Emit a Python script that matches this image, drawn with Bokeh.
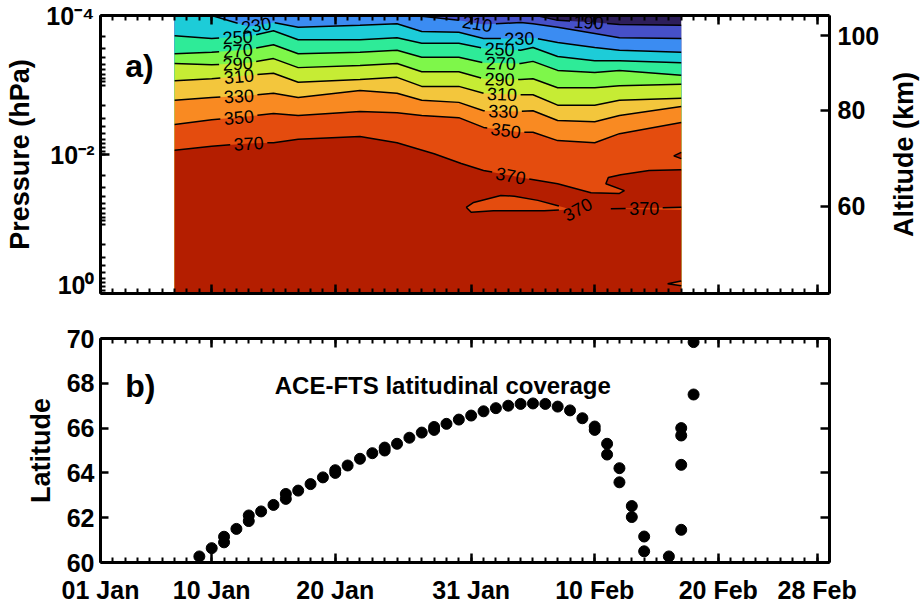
import math
import numpy as np
from bokeh.plotting import figure
from bokeh.models import Range1d, LinearAxis, FixedTicker, Label
from bokeh.layouts import column, row
from bokeh.core.properties import value
from bokeh.embed import file_html
from bokeh.resources import INLINE

FONT = "Liberation Sans"

# ---------------- data ----------------
# day of year (1 = 01 Jan)
DAYS = [7, 10, 13, 15, 17, 22, 25, 27, 30, 32, 35, 36, 38, 41, 43, 48]
# isotherm positions, log10(pressure / hPa)
ISO_190 = [-4.10, -4.10, -4.10, -4.10, -4.10, -4.10, -4.10, -4.10, -4.10, -4.10, -4.10, -4.01, -3.93, -3.90, -3.87, -3.86]
ISO_210 = [-4.10, -4.10, -4.10, -4.10, -4.10, -4.10, -4.10, -3.99, -3.93, -3.87, -3.90, -3.88, -3.83, -3.74, -3.68, -3.67]
ISO_230 = [-4.10, -4.00, -3.84, -3.90, -3.83, -3.86, -3.88, -3.77, -3.76, -3.67, -3.67, -3.68, -3.61, -3.54, -3.50, -3.47]
ISO_250 = [-3.71, -3.67, -3.70, -3.78, -3.65, -3.65, -3.68, -3.60, -3.60, -3.53, -3.50, -3.54, -3.41, -3.35, -3.35, -3.32]
ISO_270 = [-3.45, -3.47, -3.51, -3.58, -3.45, -3.47, -3.50, -3.40, -3.40, -3.32, -3.31, -3.34, -3.21, -3.18, -3.21, -3.14]
ISO_290 = [-3.31, -3.29, -3.32, -3.38, -3.25, -3.28, -3.31, -3.19, -3.19, -3.09, -3.08, -3.09, -2.96, -2.96, -2.99, -3.01]
ISO_310 = [-3.06, -3.09, -3.14, -3.17, -3.04, -3.08, -3.11, -2.98, -2.98, -2.88, -2.86, -2.86, -2.71, -2.71, -2.78, -2.81]
ISO_330 = [-2.78, -2.82, -2.85, -2.88, -2.82, -2.92, -2.88, -2.78, -2.75, -2.63, -2.62, -2.63, -2.49, -2.47, -2.56, -2.69]
ISO_350 = [-2.43, -2.50, -2.55, -2.59, -2.56, -2.62, -2.60, -2.56, -2.53, -2.39, -2.32, -2.32, -2.20, -2.17, -2.30, -2.46]
LEVELS = [190, 210, 230, 250, 270, 290, 310, 330, 350]
ISO = dict(zip(LEVELS, [ISO_190, ISO_210, ISO_230, ISO_250, ISO_270,
                        ISO_290, ISO_310, ISO_330, ISO_350]))

ISO_370_DAY = [7.0, 10.0, 13.0, 15.0, 17.0, 22.0, 25.0, 28.0, 30.2, 32.0, 35.0, 38.0, 40.7, 43.0,
               43.4, 41.9, 42.1, 43.1, 45.4, 48.0]
ISO_370_LOGP = [-2.06, -2.12, -2.16, -2.17, -2.22, -2.26, -2.17, -2.01, -1.87, -1.77, -1.67, -1.58, -1.45, -1.44,
                -1.48, -1.58, -1.67, -1.71, -1.77, -1.78]
# closed 370 contours: island (<370), sliver (<370), edge pockets
ISLAND_DAY = [30.6, 31.2, 33.4, 34.5, 36.4, 38.3, 39.1, 36.9, 32.8, 31.0]
ISLAND_LOGP = [-1.24, -1.31, -1.41, -1.40, -1.34, -1.25, -1.21, -1.19, -1.19, -1.17]
SLIVER_DAY = [42.3, 48.0, 48.0]
SLIVER_LOGP = [-1.22, -1.24, -1.20]
POCKET_HI_DAY = [48.0, 47.4, 48.0]      # >370 pocket at the right edge
POCKET_HI_LOGP = [-2.03, -1.98, -1.94]
POCKET_LO_DAY = [48.0, 46.9, 48.0]      # <370 pocket at the right edge
POCKET_LO_LOGP = [-0.18, -0.14, -0.11]

# contour labels: level and day of year where they sit
CLAB_LEVEL = [230, 250, 270, 290, 310, 330, 350, 370,
              190, 210, 230, 250, 270, 290, 310, 330, 350, 370]
CLAB_DAY = [13.6, 12.1, 12.1, 12.1, 12.2, 12.2, 12.2, 13.0,
            40.5, 31.5, 34.9, 33.3, 33.4, 33.3, 33.5, 33.6, 33.8, 34.2]
SLIVER_LABEL_DAY = 45.0

# ACE-FTS latitudinal coverage
LAT_DAY = [9, 10, 11, 11, 12, 13, 13, 14, 15, 16, 16, 17, 18, 19, 20, 20, 21, 22, 23, 24, 24, 25,
           26, 27, 28, 28, 29, 30, 31, 32, 33, 34, 35, 36, 37, 38, 39, 40, 41, 41, 42, 42, 43, 43,
           44, 44, 45, 45, 47, 48, 48, 48, 48, 49, 49]
LAT_VAL = [60.27, 60.64, 60.90, 61.15, 61.50, 61.85, 62.10, 62.28, 62.57, 62.84, 63.06, 63.21, 63.50,
           63.80, 64.00, 64.12, 64.33, 64.63, 64.88, 65.00, 65.13, 65.30, 65.57, 65.80, 65.92, 66.05,
           66.19, 66.38, 66.56, 66.75, 66.89, 67.00, 67.08, 67.10, 67.08, 66.96, 66.79, 66.44, 66.07,
           65.92, 65.30, 64.82, 64.21, 63.58, 62.52, 62.03, 61.16, 60.50, 60.27, 66.00, 65.67, 64.36,
           61.46, 69.84, 67.50]

TICK_DAYS = [1, 10, 20, 31, 41, 51, 59]
TICK_LABELS = ["01 Jan", "10 Jan", "20 Jan", "31 Jan", "10 Feb", "20 Feb", "28 Feb"]

# ---------------- styles ----------------
BAND_COLORS = ["#2D1E5A", "#4650C8", "#3B8CF2", "#1DCCD8", "#2EEB98", "#7EF74A",
               "#C6EC34", "#F3C63C", "#F98A22", "#E44C0E", "#B41E00"]
FW, FH1, FH2 = 729, 278, 224
X0, X1 = 1, 60
PX_DAY = FW / (X1 - X0)
PX_DEC = FH1 / 4.0
GAP = 1.5  # half-width (days) of contour label gap
ALT_RANGE = (46.2, 106.3)


def style_axis(ax, major_in=9, minor_in=5, labels=True):
    ax.axis_line_width = 3
    ax.major_tick_line_width = 2.5
    ax.minor_tick_line_width = 2
    ax.major_tick_in = major_in
    ax.major_tick_out = 0
    ax.minor_tick_in = minor_in
    ax.minor_tick_out = 0
    ax.major_label_text_font = FONT
    ax.major_label_text_font_style = "bold"
    ax.axis_label_text_font = FONT
    ax.axis_label_text_font_style = "bold"
    ax.axis_label_text_font_size = "27px"
    ax.axis_label_text_color = "black"
    if labels:
        ax.major_label_text_font_size = "25px"
        ax.major_label_text_color = "black"
    else:
        ax.major_label_text_font_size = "1px"
        ax.major_label_text_color = None
        ax.major_label_standoff = 0


def cut_polyline(xs, ys, gaps):
    pieces, cx, cy = [], [], []
    def in_gap(x):
        return any(a < x < b for a, b in gaps)
    for i in range(len(xs) - 1):
        x0, y0, x1, y1 = xs[i], ys[i], xs[i + 1], ys[i + 1]
        ts = {0.0, 1.0}
        if x1 != x0:
            for a, b in gaps:
                for e in (a, b):
                    t = (e - x0) / (x1 - x0)
                    if 0 < t < 1:
                        ts.add(t)
        ts = sorted(ts)
        for ta, tb in zip(ts[:-1], ts[1:]):
            xm = x0 + 0.5 * (ta + tb) * (x1 - x0)
            if in_gap(xm):
                if len(cx) > 1:
                    pieces.append((cx, cy))
                cx, cy = [], []
            else:
                if not cx:
                    cx, cy = [x0 + ta * (x1 - x0)], [y0 + ta * (y1 - y0)]
                cx.append(x0 + tb * (x1 - x0))
                cy.append(y0 + tb * (y1 - y0))
    if len(cx) > 1:
        pieces.append((cx, cy))
    return pieces


def slope_angle(xs, ys, d):
    s = (np.interp(d + 0.4, xs, ys) - np.interp(d - 0.4, xs, ys)) / 0.8
    return float(-np.arctan(s * PX_DEC / PX_DAY))


x_ticker = FixedTicker(ticks=TICK_DAYS, minor_ticks=list(range(X0, X1 + 1)))

# ---------------- panel a ----------------
p1 = figure(x_range=Range1d(X0, X1), y_range=Range1d(1.0, 1e-4), y_axis_type="log",
            frame_width=FW, frame_height=FH1, output_backend="svg", toolbar_location=None,
            min_border_left=100, min_border_top=15, min_border_bottom=5, min_border_right=56)
p1.xgrid.visible = False
p1.ygrid.visible = False
p1.outline_line_color = None

# filled bands
p1.quad(left=DAYS[0], right=DAYS[-1], bottom=1.0, top=1e-4, fill_color=BAND_COLORS[0], line_color=None)
for i, lev in enumerate(LEVELS):
    xs = DAYS + [DAYS[-1], DAYS[0]]
    ys = [10 ** v for v in ISO[lev]] + [1.0, 1.0]
    p1.patch(xs, ys, fill_color=BAND_COLORS[i + 1], line_color=None)
p1.patch(ISO_370_DAY + [ISO_370_DAY[-1], ISO_370_DAY[0]],
         [10 ** v for v in ISO_370_LOGP] + [1.0, 1.0], fill_color=BAND_COLORS[10], line_color=None)
p1.patch(ISLAND_DAY, [10 ** v for v in ISLAND_LOGP], fill_color=BAND_COLORS[9], line_color=None)
p1.patch(SLIVER_DAY, [10 ** v for v in SLIVER_LOGP], fill_color=BAND_COLORS[9], line_color=None)
p1.patch(POCKET_HI_DAY, [10 ** v for v in POCKET_HI_LOGP], fill_color=BAND_COLORS[10], line_color=None)
p1.patch(POCKET_LO_DAY, [10 ** v for v in POCKET_LO_LOGP], fill_color=BAND_COLORS[9], line_color=None)

# contour lines (broken at labels) and labels
lx, ly, tx, ty, tt, ta = [], [], [], [], [], []
n_mono = ISO_370_DAY.index(43.0) + 1
for lev in LEVELS + [370]:
    if lev == 370:
        xs, ys = ISO_370_DAY, ISO_370_LOGP
        mx, my = ISO_370_DAY[:n_mono], ISO_370_LOGP[:n_mono]
    else:
        xs, ys = DAYS, ISO[lev]
        mx, my = xs, ys
    days = [d for l, d in zip(CLAB_LEVEL, CLAB_DAY) if l == lev]
    for d in days:
        tx.append(d)
        ty.append(10 ** float(np.interp(d, mx, my)))
        tt.append(str(lev))
        ta.append(slope_angle(mx, my, d))
    for px, py in cut_polyline(xs, ys, [(d - GAP, d + GAP) for d in days]):
        lx.append(px)
        ly.append([10 ** v for v in py])

# island outline
tip = int(np.argmax(ISLAND_DAY))
ix = ISLAND_DAY + [ISLAND_DAY[0]]
iy = ISLAND_LOGP + [ISLAND_LOGP[0]]
for px, py in cut_polyline(ix, iy, [(ISLAND_DAY[tip] - 1.0, ISLAND_DAY[tip] + 3.0)]):
    lx.append(px)
    ly.append([10 ** v for v in py])
tx.append(ISLAND_DAY[tip] + 0.5)
ty.append(10 ** ISLAND_LOGP[tip])
tt.append("370")
ta.append(0.5)
# sliver outline
sx, sy = SLIVER_DAY[:2], SLIVER_LOGP[:2]
for px, py in cut_polyline(sx, sy, [(SLIVER_LABEL_DAY - GAP, SLIVER_LABEL_DAY + GAP)]):
    lx.append(px)
    ly.append([10 ** v for v in py])
tx.append(SLIVER_LABEL_DAY)
ty.append(10 ** float(np.interp(SLIVER_LABEL_DAY, sx, sy)))
tt.append("370")
ta.append(0.0)
# edge pockets
for pd, pl in ((POCKET_HI_DAY, POCKET_HI_LOGP), (POCKET_LO_DAY, POCKET_LO_LOGP)):
    lx.append(pd)
    ly.append([10 ** v for v in pl])

p1.multi_line(lx, ly, line_color="black", line_width=1.5)
p1.text(x=tx, y=ty, text=tt, angle=ta, text_align="center", text_baseline="middle",
        text_font=value(FONT), text_font_size="18px", text_color="black")

p1.add_layout(Label(x=3.0, y=10 ** -3.27, text="a)", text_font=FONT, text_font_style="bold",
                    text_font_size="32px", text_baseline="middle", text_align="left",
                    text_color="black"))

# axes of panel a
style_axis(p1.xaxis[0], labels=False)
p1.xaxis[0].ticker = x_ticker
top1 = LinearAxis(ticker=x_ticker)
style_axis(top1, labels=False)
p1.add_layout(top1, "above")

yax = p1.yaxis[0]
style_axis(yax, major_in=9, minor_in=5)
yax.ticker = FixedTicker(ticks=[1e-4, 1e-2, 1.0],
                         minor_ticks=[k * 10.0 ** e for e in range(-4, 0) for k in range(1, 10)])
yax.major_label_overrides = {1e-4: "10⁻⁴", 1e-2: "10⁻²", 1.0: "10⁰"}
yax.axis_label = "Pressure (hPa)"
yax.major_label_standoff = 6
yax.axis_label_standoff = 8

p1.extra_y_ranges = {"alt": Range1d(*ALT_RANGE)}
ralt = LinearAxis(y_range_name="alt", ticker=FixedTicker(ticks=[60, 80, 100], minor_ticks=[]))
style_axis(ralt, major_in=9, minor_in=0)
ralt.major_label_standoff = 8
p1.add_layout(ralt, "right")

# right-hand axis title (reads bottom-to-top), in a narrow strip beside panel a
pt = figure(width=36, frame_height=FH1, x_range=Range1d(0, 1), y_range=Range1d(0, 1),
            output_backend="svg", toolbar_location=None,
            min_border_left=0, min_border_right=0, min_border_top=15, min_border_bottom=5)
pt.axis.visible = False
pt.grid.visible = False
pt.outline_line_color = None
pt.text(x=[0.5], y=[0.5], text=["Altitude (km)"], angle=math.pi / 2, text_align="center",
        text_baseline="middle", text_font=value(FONT), text_font_style="bold",
        text_font_size="27px", text_color="black")

# ---------------- panel b ----------------
p2 = figure(x_range=p1.x_range, y_range=Range1d(60, 70),
            frame_width=FW, frame_height=FH2, output_backend="svg", toolbar_location=None,
            min_border_left=100, min_border_top=40, min_border_bottom=0, min_border_right=80)
p2.xgrid.visible = False
p2.ygrid.visible = False
p2.outline_line_color = None

p2.scatter(LAT_DAY, LAT_VAL, size=11, color="black")
p2.add_layout(Label(x=28.7, y=67.9, text="ACE-FTS latitudinal coverage", text_font=FONT,
                    text_font_style="bold", text_font_size="24px", text_align="center",
                    text_baseline="alphabetic", text_color="black"))
p2.add_layout(Label(x=3.0, y=67.86, text="b)", text_font=FONT, text_font_style="bold",
                    text_font_size="32px", text_baseline="middle", text_align="left",
                    text_color="black"))

xax = p2.xaxis[0]
style_axis(xax)
xax.ticker = x_ticker
xax.major_label_overrides = dict(zip(TICK_DAYS, TICK_LABELS))
xax.major_label_standoff = 13
top2 = LinearAxis(ticker=x_ticker)
style_axis(top2, labels=False)
p2.add_layout(top2, "above")

lat_ticker = FixedTicker(ticks=[60, 62, 64, 66, 68, 70], minor_ticks=[])
lax = p2.yaxis[0]
style_axis(lax, major_in=8, minor_in=0)
lax.ticker = lat_ticker
lax.axis_label = "Latitude"
lax.major_label_standoff = 6
lax.axis_label_standoff = 8
r2 = LinearAxis(ticker=lat_ticker)
style_axis(r2, major_in=9, minor_in=0, labels=False)
p2.add_layout(r2, "right")

layout = column(row(p1, pt, spacing=0), p2, spacing=0)
open("out.html", "w").write(file_html(layout, INLINE))
